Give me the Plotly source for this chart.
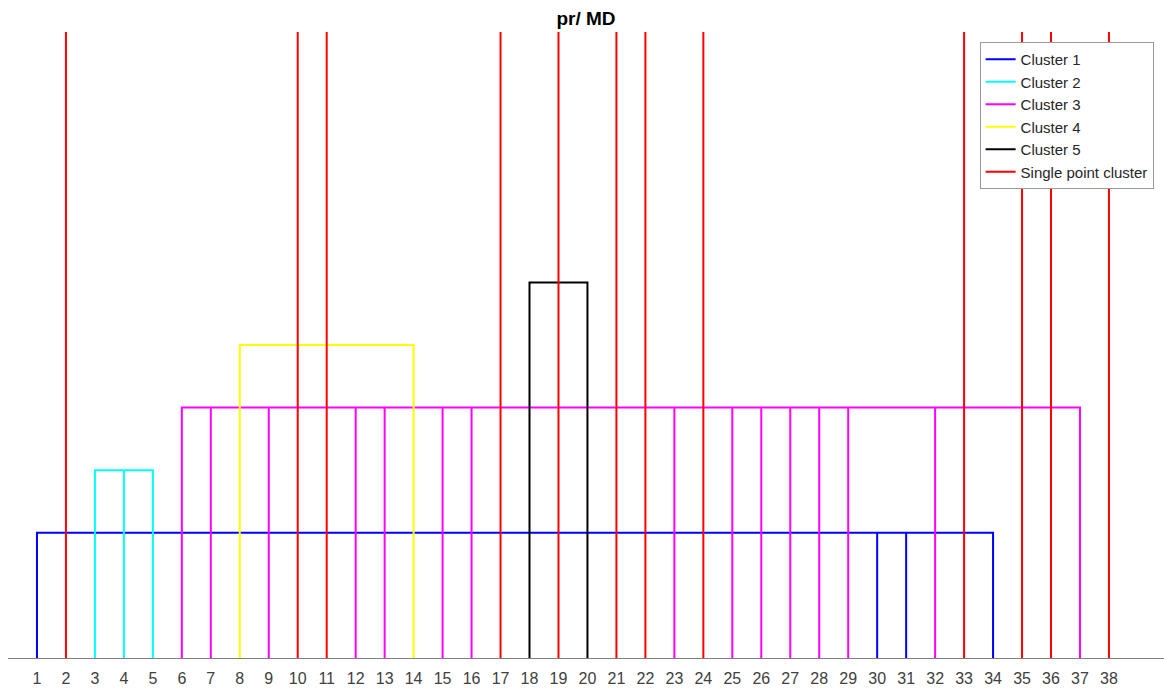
import plotly.graph_objects as go

# ---- data ----
points = list(range(1, 39))
# cluster id for each point (0 = single point cluster)
cluster_of = [1, 0, 2, 2, 2, 3, 3, 4, 3, 0,
              0, 3, 3, 4, 3, 3, 0, 5, 0, 5,
              0, 0, 3, 0, 3, 3, 3, 3, 3, 1,
              1, 3, 0, 1, 0, 0, 3, 0]
cluster_names = ["Cluster 1", "Cluster 2", "Cluster 3", "Cluster 4", "Cluster 5"]
cluster_heights = [0.2, 0.3, 0.4, 0.5, 0.6]
single_height = 1.0
tick_labels = [str(p) for p in points]

colors = ["#0000ff", "#00ffff", "#ff00ff", "#ffff00", "#000000"]
single_color = "#ff0000"

fig = go.Figure()

for ci, (name, h, col) in enumerate(zip(cluster_names, cluster_heights, colors), start=1):
    members = [p for p, c in zip(points, cluster_of) if c == ci]
    xs, ys = [], []
    first, last = members[0], members[-1]
    xs += [first, first, last, last, None]
    ys += [0, h, h, 0, None]
    for m in members[1:-1]:
        xs += [m, m, None]
        ys += [0, h, None]
    fig.add_trace(go.Scatter(x=xs, y=ys, mode="lines", name=name,
                             line=dict(color=col, width=2),
                             hoverinfo="skip"))

singles = [p for p, c in zip(points, cluster_of) if c == 0]
xs, ys = [], []
for s in singles:
    xs += [s, s, None]
    ys += [0, single_height, None]
fig.add_trace(go.Scatter(x=xs, y=ys, mode="lines", name="Single point cluster",
                         line=dict(color=single_color, width=2),
                         hoverinfo="skip"))

fig.update_layout(
    width=1164, height=691,
    margin=dict(l=8, r=0, t=32, b=33),
    paper_bgcolor="white", plot_bgcolor="white",
    font=dict(family="Liberation Sans, Arial, sans-serif", size=16, color="#262626"),
    title=dict(text="<b>pr/ MD</b>", x=0.5, xref="paper", xanchor="center",
               y=1 - 18 / 691, yref="container", yanchor="middle",
               font=dict(size=19, color="#000000")),
    showlegend=True,
    legend=dict(x=0.991, xanchor="right", y=0.984, yanchor="top",
                bgcolor="white", bordercolor="#999999", borderwidth=1,
                font=dict(size=15, color="#262626"), tracegroupgap=0),
    xaxis=dict(range=[0, 39.9], tickvals=points, ticktext=tick_labels,
               showgrid=False, zeroline=False, showline=True,
               linecolor="#808080", linewidth=1,
               ticks="outside", ticklen=6, tickcolor="rgba(0,0,0,0)",
               tickfont=dict(size=16, color="#404040")),
    yaxis=dict(range=[0, 1], showgrid=False, zeroline=False, showline=False,
               showticklabels=False, ticks=""),
)

fig.write_html("out.html", config={"displayModeBar": False},
               post_script="document.body.style.margin='0';document.body.style.overflow='hidden';")
